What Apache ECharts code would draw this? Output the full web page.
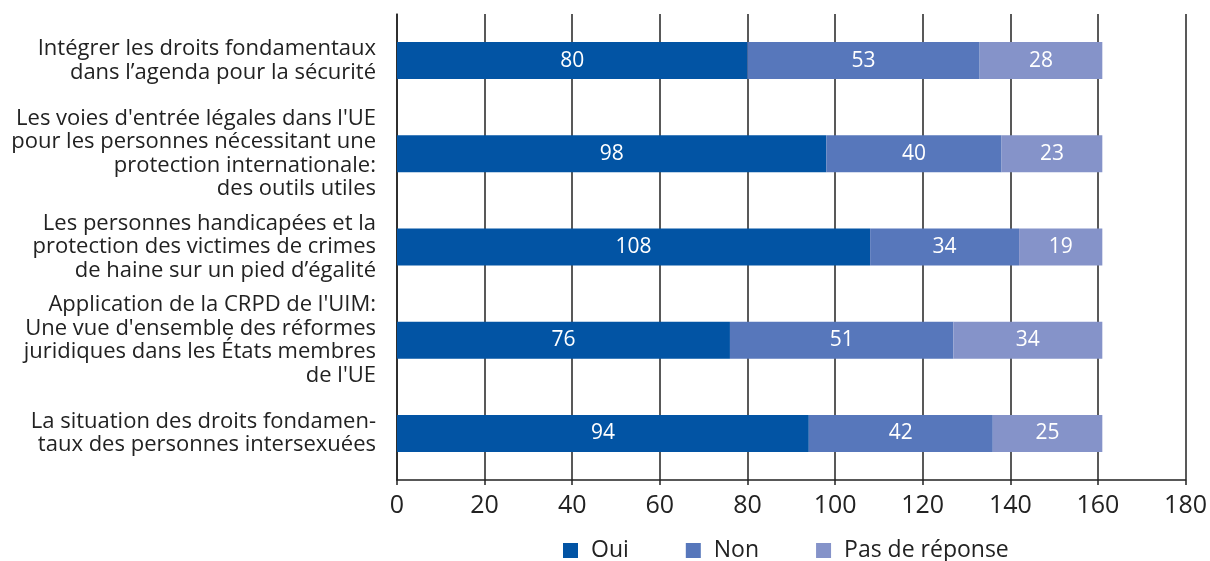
<!DOCTYPE html>
<html>
<head>
<meta charset="utf-8">
<script src="https://cdn.jsdelivr.net/npm/echarts@6/dist/echarts.min.js"></script>
<style>
  html, body { margin: 0; padding: 0; background: #fff; }
  #chart { width: 1210px; height: 561px; }
</style>
</head>
<body>
<div id="chart"></div>
<script>
// Catégories (de haut en bas)
const categories = [
    "Intégrer les droits fondamentaux\ndans l’agenda pour la sécurité",
    "Les voies d'entrée légales dans l'UE\npour les personnes nécessitant une\nprotection internationale:\ndes outils utiles",
    "Les personnes handicapées et la\nprotection des victimes de crimes\nde haine sur un pied d’égalité",
    "Application de la CRPD de l'UIM:\nUne vue d'ensemble des réformes\njuridiques dans les États membres\nde l'UE",
    "La situation des droits fondamen-\ntaux des personnes intersexuées"
];

const oui = [80, 98, 108, 76, 94];
const non = [53, 40, 34, 51, 42];
const pasDeReponse = [28, 23, 19, 34, 25];

const seriesNames = ['Oui', 'Non', 'Pas de réponse'];
const couleurs = ['#0254a4', '#5777bb', '#8593c9'];

const fonte = '"Open Sans", "DejaVu Sans", sans-serif';

const chart = echarts.init(document.getElementById('chart'));

function serieBarre(nom, valeurs, couleur) {
    return {
        name: nom,
        type: 'bar',
        stack: 'total',
        data: valeurs,
        barWidth: 37,
        itemStyle: { color: couleur },
        label: {
            show: true,
            position: 'inside',
            color: '#fff',
            fontFamily: fonte,
            fontSize: 21
        }
    };
}

const option = {
    animation: false,
    grid: {
        left: 397,
        right: 23,
        top: 14,
        bottom: 81
    },
    legend: {
        data: seriesNames,
        left: 558,
        top: 534,
        itemWidth: 15,
        itemHeight: 15,
        itemGap: 57,
        icon: 'rect',
        textStyle: {
            fontFamily: fonte,
            fontSize: 23,
            color: '#222',
            padding: [0, 0, 0, 8]
        }
    },
    xAxis: {
        type: 'value',
        min: 0,
        max: 180,
        interval: 20,
        axisLine: { show: true, lineStyle: { color: '#222', width: 1.5 } },
        axisTick: { show: true, length: 5, lineStyle: { color: '#222', width: 1.5 } },
        axisLabel: {
            fontFamily: fonte,
            fontSize: 25,
            color: '#222',
            margin: 13
        },
        splitLine: { show: true, lineStyle: { color: '#222', width: 1.5 } }
    },
    yAxis: {
        type: 'category',
        data: categories,
        inverse: true,
        axisLine: { show: true, lineStyle: { color: '#222', width: 1.5 } },
        axisTick: { show: false },
        axisLabel: {
            fontFamily: fonte,
            fontSize: 22,
            lineHeight: 23.5,
            color: '#222',
            align: 'right',
            margin: 21
        },
        splitLine: { show: false }
    },
    series: [
        serieBarre(seriesNames[0], oui, couleurs[0]),
        serieBarre(seriesNames[1], non, couleurs[1]),
        serieBarre(seriesNames[2], pasDeReponse, couleurs[2])
    ]
};

chart.setOption(option);
</script>
</body>
</html>
